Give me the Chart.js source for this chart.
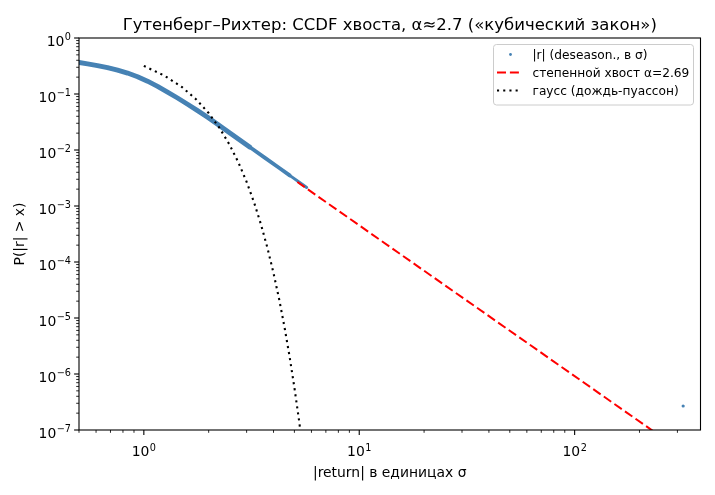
<!DOCTYPE html>
<html><head><meta charset="utf-8">
<script src="https://cdn.jsdelivr.net/npm/chart.js@4.4.1/dist/chart.umd.min.js"></script>
<style>html,body{margin:0;padding:0;background:#fff;overflow:hidden}canvas{display:block}</style>
</head><body>
<canvas id="c" width="715" height="495" style="width:715px;height:495px"></canvas>
<script>
// ---- texts ----
const titleText = 'Гутенберг–Рихтер: CCDF хвоста, α≈2.7 («кубический закон»)';
const xAxisLabel = '|return| в единицах σ';
const yAxisLabel = 'P(|r| > x)';
const legendLabels = ['|r| (deseason., в σ)', 'степенной хвост α=2.69', 'гаусс (дождь-пуассон)'];

// ---- data ----
const empX = [0.5, 0.548, 0.609, 0.678, 0.755, 0.840, 0.935, 1.040, 1.158, 1.288, 1.434, 1.596, 1.776, 1.977, 2.200, 2.528, 3.099, 3.638, 4.272, 4.754, 5.290, 5.702];
const empY = [0.366, 0.345, 0.322, 0.2949, 0.2672, 0.2361, 0.2037, 0.1693, 0.1367, 0.1081, 0.0848, 0.0657, 0.0505, 0.0384, 0.0288, 0.0197, 0.01131, 0.00732, 0.00471, 0.00352, 0.00263, 0.00214];
const outlierX = [319];
const outlierY = [2.68e-7];
const fitX = [5.16, 320];
const fitY = [2.68e-3, 4.0e-8];
const gaussX = [1.00, 1.25, 1.50, 1.75, 2.00, 2.25, 2.50, 2.75, 3.00, 3.25, 3.50, 3.75, 4.00, 4.25, 4.50, 4.75, 5.00, 5.25, 5.50];
const gaussY = [0.3173, 0.2113, 0.1336, 0.0801, 0.0455, 0.02445, 0.01242, 0.00596, 0.00270, 0.001154, 4.65e-4, 1.768e-4, 6.33e-5, 2.14e-5, 6.80e-6, 2.03e-6, 5.73e-7, 1.52e-7, 3.80e-8];

// ---- axes / ticks ----
const xRange = [0.5, 384];
const yRange = [1e-7, 1];
const xMajorExps = [0, 1, 2];
const yMajorExps = [0, -1, -2, -3, -4, -5, -6, -7];

const BLUE = '#4682b4';
const FONT = '"DejaVu Sans", "Liberation Sans", sans-serif';

function pts(xs, ys) { return xs.map((x, i) => ({ x: x, y: ys[i] })); }

function minorTicks(lo, hi) {
  const out = [];
  for (let e = Math.floor(Math.log10(lo)); e <= Math.ceil(Math.log10(hi)); e++) {
    for (let m = 2; m <= 9; m++) {
      const v = m * Math.pow(10, e);
      if (v >= lo * 0.999 && v <= hi * 1.001) out.push(v);
    }
  }
  return out;
}

function expStr(e) { return e < 0 ? '\u2212' + Math.abs(e) : String(e); }

const decor = {
  id: 'decor',
  afterDraw(chart) {
    const ctx = chart.ctx, a = chart.chartArea, xs = chart.scales.x, ys = chart.scales.y;
    ctx.save();
    // frame
    ctx.strokeStyle = '#000';
    ctx.lineWidth = 1.1;
    ctx.strokeRect(a.left, a.top, a.right - a.left, a.bottom - a.top);

    // ticks
    const tick = (x1, y1, x2, y2, w) => { ctx.lineWidth = w; ctx.beginPath(); ctx.moveTo(x1, y1); ctx.lineTo(x2, y2); ctx.stroke(); };
    minorTicks(xRange[0], xRange[1]).forEach(v => { const p = xs.getPixelForValue(v); tick(p, a.bottom, p, a.bottom + 2.8, 0.85); });
    xMajorExps.forEach(e => { const p = xs.getPixelForValue(Math.pow(10, e)); tick(p, a.bottom, p, a.bottom + 4.9, 1.1); });
    minorTicks(yRange[0], yRange[1]).forEach(v => { const p = ys.getPixelForValue(v); tick(a.left, p, a.left - 2.8, p, 0.85); });
    yMajorExps.forEach(e => { const p = ys.getPixelForValue(Math.pow(10, e)); tick(a.left, p, a.left - 4.9, p, 1.1); });

    // tick labels
    ctx.fillStyle = '#000';
    ctx.textBaseline = 'alphabetic';
    ctx.textAlign = 'left';
    const baseFont = '13.9px ' + FONT, supFont = '9.7px ' + FONT;
    const measure = (e) => {
      ctx.font = baseFont; const w1 = ctx.measureText('10').width;
      ctx.font = supFont; const w2 = ctx.measureText(expStr(e)).width;
      return [w1, w2];
    };
    xMajorExps.forEach(e => {
      const p = xs.getPixelForValue(Math.pow(10, e));
      const [w1, w2] = measure(e);
      const s = p - (w1 + w2 + 0.5) / 2;
      ctx.font = baseFont; ctx.fillText('10', s, a.bottom + 26);
      ctx.font = supFont; ctx.fillText(expStr(e), s + w1 + 0.5, a.bottom + 20.5);
    });
    yMajorExps.forEach(e => {
      const p = ys.getPixelForValue(Math.pow(10, e));
      const [w1, w2] = measure(e);
      const right = a.left - 8;
      const s = right - (w1 + w2 + 0.5);
      ctx.font = baseFont; ctx.fillText('10', s, p + 7.5);
      ctx.font = supFont; ctx.fillText(expStr(e), s + w1 + 0.5, p + 2);
    });

    // axis labels
    ctx.font = '13.9px ' + FONT;
    ctx.textAlign = 'center';
    ctx.fillText(xAxisLabel, (a.left + a.right) / 2, 477);
    ctx.save();
    ctx.translate(24, (a.top + a.bottom) / 2);
    ctx.rotate(-Math.PI / 2);
    ctx.fillText(yAxisLabel, 0, 0);
    ctx.restore();

    // title
    ctx.font = '16.5px ' + FONT;
    ctx.fillText(titleText, (a.left + a.right) / 2, 29.5);

    // legend
    const lx = 493.5, ly = 44.5, lw = 200, lh = 60.5, r = 3;
    ctx.beginPath();
    ctx.moveTo(lx + r, ly);
    ctx.arcTo(lx + lw, ly, lx + lw, ly + lh, r);
    ctx.arcTo(lx + lw, ly + lh, lx, ly + lh, r);
    ctx.arcTo(lx, ly + lh, lx, ly, r);
    ctx.arcTo(lx, ly, lx + lw, ly, r);
    ctx.closePath();
    ctx.fillStyle = 'rgba(255,255,255,0.8)';
    ctx.fill();
    ctx.strokeStyle = '#cccccc';
    ctx.lineWidth = 1;
    ctx.stroke();

    const rows = [54.5, 72.5, 90.5];
    // blue marker
    ctx.fillStyle = BLUE;
    ctx.beginPath(); ctx.arc(510.5, rows[0], 1.4, 0, Math.PI * 2); ctx.fill();
    // red dashed
    ctx.strokeStyle = 'red'; ctx.lineWidth = 2; ctx.setLineDash([9, 3.9]); ctx.lineCap = 'butt';
    ctx.beginPath(); ctx.moveTo(497, rows[1]); ctx.lineTo(519, rows[1]); ctx.stroke();
    // black dotted
    ctx.strokeStyle = '#000'; ctx.lineWidth = 2.1; ctx.setLineDash([2.1, 4.1]);
    ctx.beginPath(); ctx.moveTo(497, rows[2]); ctx.lineTo(519, rows[2]); ctx.stroke();
    ctx.setLineDash([]);

    ctx.fillStyle = '#000';
    ctx.textAlign = 'left';
    ctx.font = '12.2px ' + FONT;
    legendLabels.forEach((t, i) => ctx.fillText(t, 532.5, rows[i] + 4.3));
    ctx.restore();
  }
};

new Chart(document.getElementById('c'), {
  type: 'scatter',
  data: {
    datasets: [
      { label: legendLabels[0], data: pts(empX, empY), showLine: true, borderColor: BLUE, backgroundColor: BLUE,
        borderWidth: 4.8, pointRadius: 0, borderCapStyle: 'round', borderJoinStyle: 'round', order: 3,
        segment: { borderWidth: c => (c.p0DataIndex >= 19 ? 3.0 : (c.p0DataIndex >= 16 ? 3.8 : 4.8)) } },
      { label: '_out', data: pts(outlierX, outlierY), showLine: false, pointRadius: 1.6, pointBorderWidth: 0,
        backgroundColor: BLUE, borderColor: BLUE, order: 3 },
      { label: legendLabels[1], data: pts(fitX, fitY), showLine: true, borderColor: 'red', borderWidth: 2,
        borderDash: [9, 3.9], pointRadius: 0, order: 2 },
      { label: legendLabels[2], data: pts(gaussX, gaussY), showLine: true, borderColor: '#000', borderWidth: 2.1,
        borderDash: [2.1, 4.0], pointRadius: 0, order: 1 }
    ]
  },
  options: {
    responsive: false,
    animation: false,
    devicePixelRatio: 1,
    events: [],
    layout: { padding: { left: 79, right: 14.5, top: 38, bottom: 65 } },
    scales: {
      x: { type: 'logarithmic', min: xRange[0], max: xRange[1], display: false },
      y: { type: 'logarithmic', min: yRange[0], max: yRange[1], display: false }
    },
    plugins: { legend: { display: false }, tooltip: { enabled: false }, title: { display: false } }
  },
  plugins: [decor]
});
</script>
</body></html>
